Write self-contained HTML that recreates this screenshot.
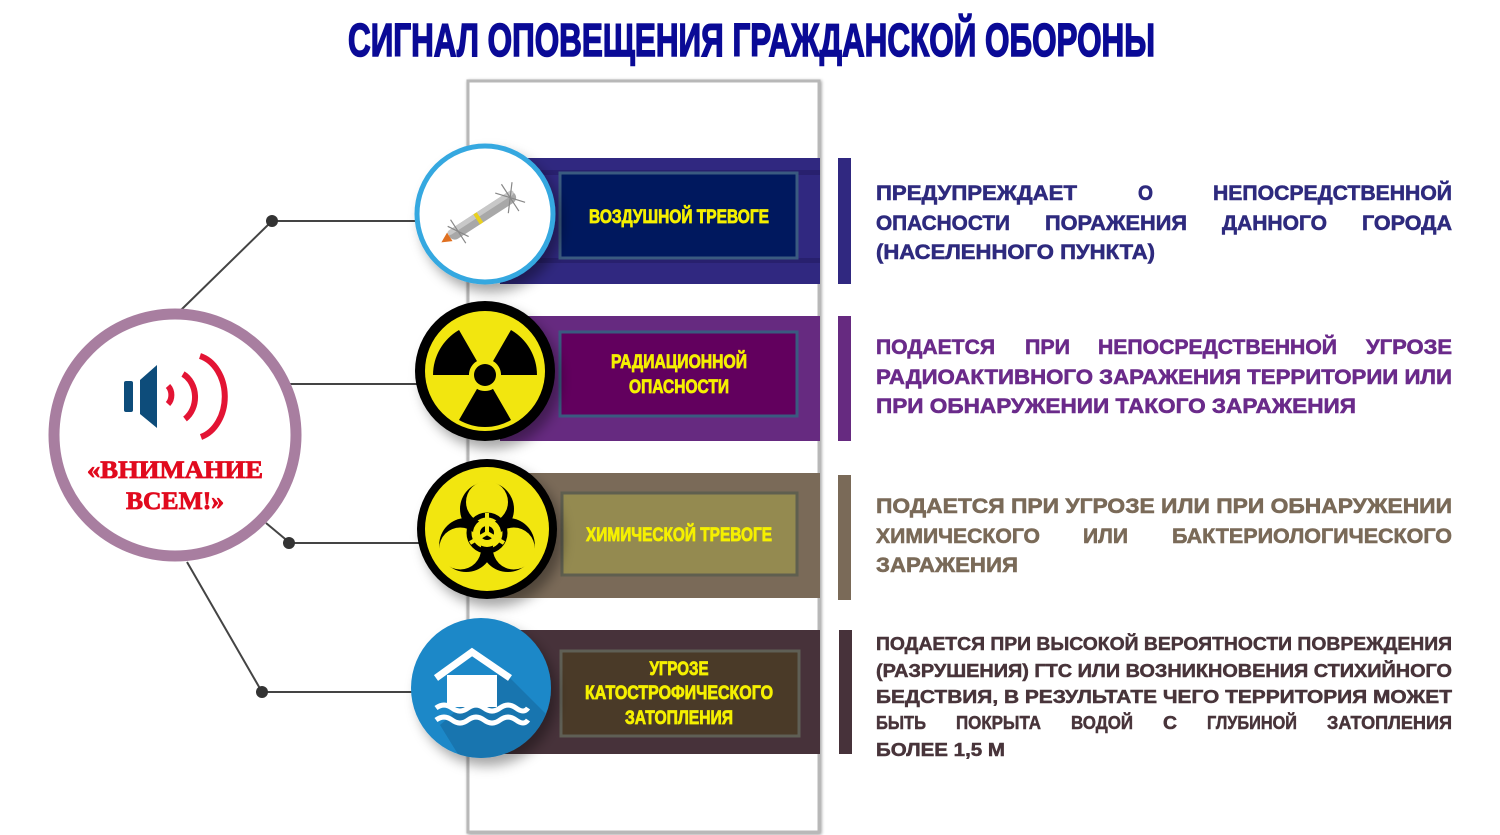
<!DOCTYPE html>
<html><head><meta charset="utf-8">
<style>
html,body{margin:0;padding:0;background:#fff;}
svg{display:block;}
.t{font-family:"Liberation Sans","DejaVu Sans",sans-serif;font-weight:bold;}
</style></head>
<body>
<svg width="1500" height="835" viewBox="0 0 1500 835" xmlns="http://www.w3.org/2000/svg">
<defs>
<filter id="sh" x="-30%" y="-30%" width="160%" height="160%"><feDropShadow dx="6" dy="8" stdDeviation="6" flood-color="#000" flood-opacity="0.35"/></filter>
<filter id="ps" x="-5%" y="-5%" width="110%" height="110%"><feDropShadow dx="1" dy="1" stdDeviation="1.5" flood-color="#000" flood-opacity="0.4"/></filter>
<clipPath id="fc"><circle cx="481" cy="688" r="70"/></clipPath>
</defs>

<text class="t" x="348" y="56" font-size="46" fill="#0a0a96" stroke="#0a0a96" stroke-width="1.6" textLength="807" lengthAdjust="spacingAndGlyphs">СИГНАЛ ОПОВЕЩЕНИЯ ГРАЖДАНСКОЙ ОБОРОНЫ</text>

<rect x="468" y="81" width="351" height="751" fill="#fff" stroke="#b8b8b8" stroke-width="3" filter="url(#ps)"/>

<rect x="500" y="158" width="320" height="126" fill="#302880"/>
<rect x="500" y="170" width="320" height="5" fill="#28206e"/>
<rect x="500" y="258" width="320" height="5" fill="#28206e"/>
<rect x="560" y="173" width="237" height="85" fill="#00185e" stroke="#3a5a80" stroke-width="3"/>
<rect x="838" y="158" width="13" height="126" fill="#302880"/>

<rect x="500" y="316" width="320" height="125" fill="#662a80"/>
<rect x="560" y="332" width="237" height="84" fill="#62005e" stroke="#3a5a80" stroke-width="3"/>
<rect x="838" y="316" width="13" height="125" fill="#662a80"/>

<rect x="500" y="473" width="320" height="125" fill="#7a6a58"/>
<rect x="562" y="493" width="235" height="82" fill="#948a50" stroke="#5f5f4f" stroke-width="3"/>
<rect x="838" y="475" width="13" height="125" fill="#7a6a58"/>

<rect x="500" y="630" width="320" height="124" fill="#47323a"/>
<rect x="561" y="651" width="238" height="85" fill="#4a3a28" stroke="#5f5f55" stroke-width="3"/>
<rect x="839" y="630" width="13" height="124" fill="#47323a"/>

<g class="t" fill="#f5f000" stroke="#f5f000" stroke-width="0.8" font-size="19" text-anchor="middle">
<text x="679" y="223" textLength="180" lengthAdjust="spacingAndGlyphs">ВОЗДУШНОЙ ТРЕВОГЕ</text>
<text x="679" y="368" textLength="136" lengthAdjust="spacingAndGlyphs">РАДИАЦИОННОЙ</text>
<text x="679" y="393" textLength="100" lengthAdjust="spacingAndGlyphs">ОПАСНОСТИ</text>
<text x="679" y="541" textLength="186" lengthAdjust="spacingAndGlyphs">ХИМИЧЕСКОЙ ТРЕВОГЕ</text>
<text x="679" y="675" textLength="59" lengthAdjust="spacingAndGlyphs">УГРОЗЕ</text>
<text x="679" y="699" textLength="188" lengthAdjust="spacingAndGlyphs">КАТОСТРОФИЧЕСКОГО</text>
<text x="679" y="724" textLength="108" lengthAdjust="spacingAndGlyphs">ЗАТОПЛЕНИЯ</text>
</g>

<g stroke="#444" stroke-width="2" fill="none">
<line x1="181" y1="310" x2="272" y2="221"/>
<line x1="272" y1="221" x2="420" y2="221"/>
<line x1="290" y1="384" x2="420" y2="384"/>
<line x1="266" y1="523" x2="290" y2="543"/>
<line x1="290" y1="543" x2="420" y2="543"/>
<line x1="187" y1="562" x2="262" y2="692"/>
<line x1="262" y1="692" x2="415" y2="692"/>
</g>
<g fill="#333">
<circle cx="272" cy="221" r="6"/><circle cx="289" cy="543" r="6"/><circle cx="262" cy="692" r="6"/>
</g>

<circle cx="175" cy="435" r="121" fill="#fff" stroke="#a87ea0" stroke-width="11"/>
<rect x="124" y="381" width="9" height="31" rx="2" fill="#0d4c7a"/>
<path d="M140 380 L157 365 L157 428 L140 414 Z" fill="#0d4c7a"/>
<g fill="none" stroke="#e31434" stroke-width="6">
<path d="M168 386 A10 12 0 0 1 168 404"/>
<path d="M183 374 A22 26 0 0 1 185 419"/>
<path d="M200 356 A33 42 0 0 1 201 437"/>
</g>
<text x="175" y="478" font-family="Liberation Serif,serif" font-weight="bold" font-size="25" fill="#e10a1e" stroke="#e10a1e" stroke-width="0.8" text-anchor="middle" textLength="176" lengthAdjust="spacingAndGlyphs">«ВНИМАНИЕ</text>
<text x="175" y="509" font-family="Liberation Serif,serif" font-weight="bold" font-size="25" fill="#e10a1e" stroke="#e10a1e" stroke-width="0.8" text-anchor="middle" textLength="98" lengthAdjust="spacingAndGlyphs">ВСЕМ!»</text>

<g filter="url(#sh)"><circle cx="485" cy="214" r="68" fill="#fff" stroke="#35a8e0" stroke-width="5"/></g>
<g transform="translate(485,214) rotate(-33)">
<rect x="-42" y="-6" width="78" height="12" rx="6" fill="#a8a8a8"/>
<rect x="-42" y="-6" width="78" height="5" rx="3" fill="#c8c8c8"/>
<rect x="-10" y="-6" width="4" height="12" fill="#e8d020"/>
<path d="M-42 -5 L-52 0 L-42 5 Z" fill="#e07020"/>
<g stroke="#888" stroke-width="1.2"><line x1="30" y1="-16" x2="30" y2="16"/><line x1="20" y1="-12" x2="40" y2="12"/><line x1="40" y1="-12" x2="20" y2="12"/><line x1="-32" y1="-14" x2="-32" y2="14"/><line x1="-38" y1="-10" x2="-26" y2="10"/></g>
</g>

<g filter="url(#sh)"><circle cx="485" cy="371" r="70" fill="#000"/></g>
<circle cx="485" cy="371" r="60" fill="#f2e60f"/>
<g transform="translate(485,375)" fill="#000">
<path d="M8 13.9 L26 45 A52 52 0 0 1 -26 45 L-8 13.9 A16 16 0 0 0 8 13.9 Z"/>
<path transform="rotate(120)" d="M8 13.9 L26 45 A52 52 0 0 1 -26 45 L-8 13.9 A16 16 0 0 0 8 13.9 Z"/>
<path transform="rotate(240)" d="M8 13.9 L26 45 A52 52 0 0 1 -26 45 L-8 13.9 A16 16 0 0 0 8 13.9 Z"/>
<circle r="11"/>
</g>

<g filter="url(#sh)"><circle cx="487" cy="529" r="70" fill="#000"/></g>
<circle cx="487" cy="529" r="62" fill="#f2e60f"/>
<g transform="translate(487,533)">
<g fill="#000">
<circle cx="0" cy="-24" r="27"/><circle cx="20.8" cy="12" r="27"/><circle cx="-20.8" cy="12" r="27"/>
</g>
<g fill="#f2e60f">
<circle cx="0" cy="-31" r="21"/><circle cx="26.8" cy="15.5" r="21"/><circle cx="-26.8" cy="15.5" r="21"/>
<circle r="14"/>
</g>
<circle r="18" fill="none" stroke="#000" stroke-width="5"/>
<circle r="7" fill="#000"/>
<g stroke="#f2e60f" stroke-width="4"><line x1="0" y1="0" x2="0" y2="-20"/><line x1="0" y1="0" x2="17" y2="10"/><line x1="0" y1="0" x2="-17" y2="10"/></g>
</g>

<g filter="url(#sh)"><circle cx="481" cy="688" r="70" fill="#1e88c8"/></g>
<g clip-path="url(#fc)"><path d="M497 675 L510 678 L600 768 L480 790 L440 725 Z" fill="#176ea4" opacity="0.7"/></g>
<path d="M436 678 L472 652 L510 678" fill="none" stroke="#fff" stroke-width="7"/>
<rect x="447" y="675" width="50" height="32" fill="#fff"/>
<g fill="none" stroke="#fff" stroke-width="5">
<path d="M436 708 q8 -6 16 0 t16 0 t16 0 t16 0 t16 0 t12 0"/>
<path d="M436 720 q8 -6 16 0 t16 0 t16 0 t16 0 t16 0 t12 0"/>
</g>

<g class="t" font-size="21" fill="#2e2a7e" stroke="#2e2a7e" stroke-width="0.6">
<text x="876" y="200" textLength="201" lengthAdjust="spacingAndGlyphs">ПРЕДУПРЕЖДАЕТ</text>
<text x="1138" y="200" textLength="15" lengthAdjust="spacingAndGlyphs">О</text>
<text x="1213" y="200" textLength="239" lengthAdjust="spacingAndGlyphs">НЕПОСРЕДСТВЕННОЙ</text>
<text x="876" y="230" textLength="134" lengthAdjust="spacingAndGlyphs">ОПАСНОСТИ</text>
<text x="1045" y="230" textLength="142" lengthAdjust="spacingAndGlyphs">ПОРАЖЕНИЯ</text>
<text x="1222" y="230" textLength="105" lengthAdjust="spacingAndGlyphs">ДАННОГО</text>
<text x="1362" y="230" textLength="90" lengthAdjust="spacingAndGlyphs">ГОРОДА</text>
<text x="876" y="259" textLength="279" lengthAdjust="spacingAndGlyphs">(НАСЕЛЕННОГО ПУНКТА)</text>
</g>
<g class="t" font-size="21" fill="#6a2a8a" stroke="#6a2a8a" stroke-width="0.6">
<text x="876" y="354" textLength="119" lengthAdjust="spacingAndGlyphs">ПОДАЕТСЯ</text>
<text x="1025" y="354" textLength="45" lengthAdjust="spacingAndGlyphs">ПРИ</text>
<text x="1098" y="354" textLength="239" lengthAdjust="spacingAndGlyphs">НЕПОСРЕДСТВЕННОЙ</text>
<text x="1366" y="354" textLength="86" lengthAdjust="spacingAndGlyphs">УГРОЗЕ</text>
<text x="876" y="384" textLength="576" lengthAdjust="spacingAndGlyphs">РАДИОАКТИВНОГО ЗАРАЖЕНИЯ ТЕРРИТОРИИ ИЛИ</text>
<text x="876" y="413" textLength="480" lengthAdjust="spacingAndGlyphs">ПРИ ОБНАРУЖЕНИИ ТАКОГО ЗАРАЖЕНИЯ</text>
</g>
<g class="t" font-size="21" fill="#7a6a58" stroke="#7a6a58" stroke-width="0.6">
<text x="876" y="513" textLength="576" lengthAdjust="spacingAndGlyphs">ПОДАЕТСЯ ПРИ УГРОЗЕ ИЛИ ПРИ ОБНАРУЖЕНИИ</text>
<text x="876" y="543" textLength="164" lengthAdjust="spacingAndGlyphs">ХИМИЧЕСКОГО</text>
<text x="1083" y="543" textLength="45" lengthAdjust="spacingAndGlyphs">ИЛИ</text>
<text x="1172" y="543" textLength="280" lengthAdjust="spacingAndGlyphs">БАКТЕРИОЛОГИЧЕСКОГО</text>
<text x="876" y="572" textLength="142" lengthAdjust="spacingAndGlyphs">ЗАРАЖЕНИЯ</text>
</g>
<g class="t" font-size="18" fill="#48343a" stroke="#48343a" stroke-width="0.5">
<text x="876" y="650" textLength="576" lengthAdjust="spacingAndGlyphs">ПОДАЕТСЯ ПРИ ВЫСОКОЙ ВЕРОЯТНОСТИ ПОВРЕЖДЕНИЯ</text>
<text x="876" y="677" textLength="576" lengthAdjust="spacingAndGlyphs">(РАЗРУШЕНИЯ) ГТС ИЛИ ВОЗНИКНОВЕНИЯ СТИХИЙНОГО</text>
<text x="876" y="703" textLength="576" lengthAdjust="spacingAndGlyphs">БЕДСТВИЯ, В РЕЗУЛЬТАТЕ ЧЕГО ТЕРРИТОРИЯ МОЖЕТ</text>
<text x="876" y="729" textLength="50" lengthAdjust="spacingAndGlyphs">БЫТЬ</text>
<text x="956" y="729" textLength="85" lengthAdjust="spacingAndGlyphs">ПОКРЫТА</text>
<text x="1071" y="729" textLength="62" lengthAdjust="spacingAndGlyphs">ВОДОЙ</text>
<text x="1163" y="729" textLength="14" lengthAdjust="spacingAndGlyphs">С</text>
<text x="1207" y="729" textLength="90" lengthAdjust="spacingAndGlyphs">ГЛУБИНОЙ</text>
<text x="1327" y="729" textLength="125" lengthAdjust="spacingAndGlyphs">ЗАТОПЛЕНИЯ</text>
<text x="876" y="756" textLength="129" lengthAdjust="spacingAndGlyphs">БОЛЕЕ 1,5 М</text>
</g>
</svg>
</body></html>
